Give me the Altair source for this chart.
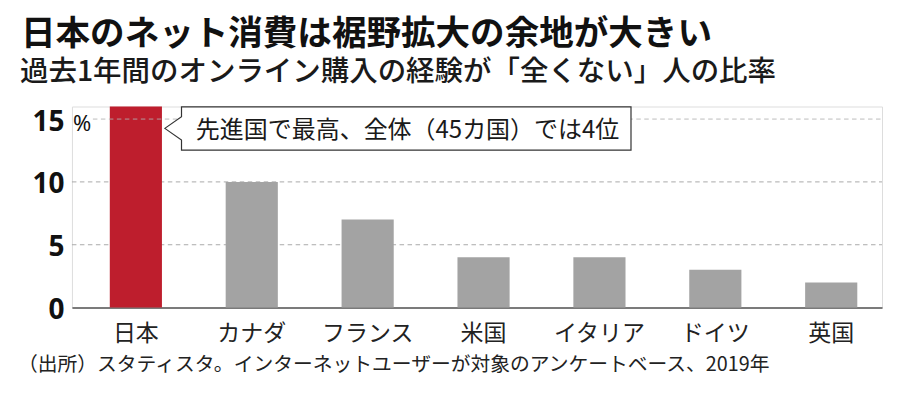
import altair as alt
import pandas as pd

# ---- data ----
countries = ["日本", "カナダ", "フランス", "米国", "イタリア", "ドイツ", "英国"]
values = [16, 10, 7, 4, 4, 3, 2]
grid_back = [5, 10]
grid_top = [15]
y_ticks = [0, 5, 10, 15]

title_text = "日本のネット消費は裾野拡大の余地が大きい"
subtitle_text = "過去1年間のオンライン購入の経験が「全くない」人の比率"
callout_text = "先進国で最高、全体（45カ国）では4位"
note_text = "（出所）スタティスタ。インターネットユーザーが対象のアンケートベース、2019年"
unit_text = "%"

RED = "#BE1E2D"
GRAY = "#A3A3A3"
JP = "Noto Sans CJK JP"
W, H = 811, 201.3

df = pd.DataFrame({"country": countries, "value": values})

y_axis = alt.Axis(
    title=None, values=y_ticks, grid=False, ticks=False, domain=False,
    labelFont="Noto Sans", labelFontSize=28, labelFontWeight="bold",
    labelColor="#111", labelPadding=8, labelBaseline="alphabetic",
    labelOffset=11, labelFlush=False,
)
y_scale = alt.Scale(domain=[0, 16], nice=False, zero=True)


def yfield(f):
    return alt.Y(f, scale=y_scale, axis=y_axis)


xenc = alt.X(
    "country:N",
    sort=countries,
    scale=alt.Scale(paddingInner=0.55, paddingOuter=0.27, align=0.605),
    axis=alt.Axis(
        title=None, ticks=False, domain=True, domainColor="#555", domainWidth=1.6,
        labelFont=JP, labelFontSize=23, labelColor="#222", labelAngle=0,
        labelBaseline="alphabetic", labelPadding=33,
    ),
)

bars = alt.Chart(df).mark_bar().encode(
    x=xenc,
    y=yfield("value:Q"),
    color=alt.Color("country:N", scale=alt.Scale(domain=countries, range=[RED] + [GRAY] * 6), legend=None),
)

grid1 = alt.Chart(pd.DataFrame({"value": grid_back})).mark_rule(
    color="#aaa", strokeWidth=1, strokeDash=[4.5, 3.5]
).encode(y=yfield("value:Q"), x=alt.value(0), x2=alt.value(W))

grid2 = alt.Chart(pd.DataFrame({"value": grid_top})).mark_rule(
    color="#b0b0b0", strokeWidth=1, strokeDash=[4.5, 3.5], opacity=0.85
).encode(y=yfield("value:Q"), x=alt.value(21), x2=alt.value(W))

pct = alt.Chart(pd.DataFrame({"value": grid_top, "t": [unit_text]})).mark_text(
    font="Noto Sans", fontSize=22, color="#111", align="left", baseline="alphabetic", dy=12
).encode(y=yfield("value:Q"), x=alt.value(1), text="t:N")

# callout shape: path in pixel units (size=4 -> scale 1), origin at pointer tip
callout_path = "M0,0 L16.7,-11.6 L16.7,-21.6 L466.7,-21.6 L466.7,21.7 L16.7,21.7 L16.7,11.7 Z"
callout = alt.Chart(pd.DataFrame({"a": [0]})).mark_point(
    shape=callout_path, size=4, filled=True, fill="white", stroke="#333",
    strokeWidth=1.2, opacity=1, fillOpacity=1, strokeOpacity=1,
).encode(x=alt.value(93), y=alt.value(21.9))

ctext = alt.Chart(pd.DataFrame({"t": [callout_text]})).mark_text(
    font=JP, fontSize=24, color="#1a1a1a", align="center", baseline="alphabetic"
).encode(x=alt.value(336), y=alt.value(31.5), text="t:N")

title = alt.Chart(pd.DataFrame({"t": [title_text]})).mark_text(
    font=JP, fontSize=34.6, fontWeight="bold", color="#111", align="left", baseline="alphabetic"
).encode(x=alt.value(-51), y=alt.value(-62), text="t:N")

subtitle = alt.Chart(pd.DataFrame({"t": [subtitle_text]})).mark_text(
    font=JP, fontSize=28.5, fontWeight=500, color="#1a1a1a", align="left", baseline="alphabetic"
).encode(x=alt.value(-52), y=alt.value(-25.5), text="t:N")

note = alt.Chart(pd.DataFrame({"t": [note_text]})).mark_text(
    font=JP, fontSize=19.8, color="#222", align="left", baseline="alphabetic"
).encode(x=alt.value(-54), y=alt.value(265), text="t:N")

chart = alt.layer(
    grid1, bars, grid2, pct, callout, ctext, title, subtitle, note
).properties(
    width=W, height=H,
    autosize=alt.AutoSizeParams(type="none"),
    padding={"left": 64, "top": 98.4, "right": 10, "bottom": 80},
).configure_view(stroke=None).configure(background="white")

chart.save("out.html", embed_options={"renderer": "svg", "actions": False})
